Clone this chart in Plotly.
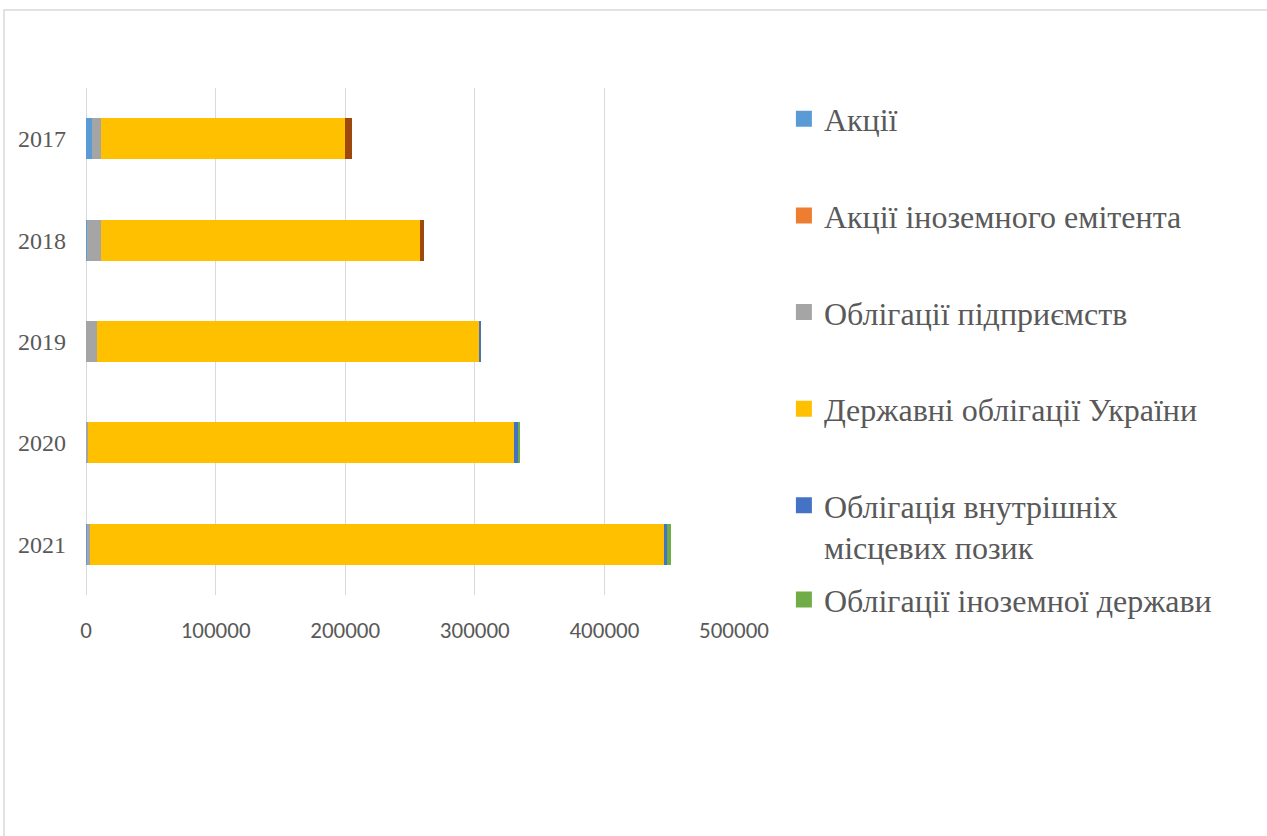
import plotly.graph_objects as go

# Portfolio structure by security type, 2017–2021
years = ["2017", "2018", "2019", "2020", "2021"]

shares = [5000, 700, 0, 0, 500]
foreign_issuer_shares = [0, 0, 0, 0, 0]
corporate_bonds = [6200, 10800, 8300, 1500, 2500]
state_bonds = [189000, 246500, 295300, 328700, 443500]
local_loan_bonds = [0, 0, 700, 3900, 1500]
foreign_state_bonds = [0, 0, 0, 500, 3300]
other = [5400, 2700, 0, 0, 0]

series = [
    ("Акції", shares, "#5B9BD5", True),
    ("Акції іноземного емітента", foreign_issuer_shares, "#ED7D31", True),
    ("Облігації підприємств", corporate_bonds, "#A5A5A5", True),
    ("Державні облігації України", state_bonds, "#FFC000", True),
    ("Облігація внутрішніх<br>місцевих позик", local_loan_bonds, "#4472C4", True),
    ("Облігації іноземної держави", foreign_state_bonds, "#70AD47", True),
    ("Інші", other, "#9E480E", False),
]

TEXT = "#595959"
GRID = "#D9D9D9"
SERIF = "Liberation Serif, Times New Roman, serif"

fig = go.Figure()

for name, vals, color, _ in series:
    fig.add_trace(go.Bar(
        y=years, x=vals, name=name, orientation="h",
        marker=dict(color=color, line=dict(width=0)),
        showlegend=False, hoverinfo="x+name",
    ))

# Legend entries with larger square swatches
for i, (name, vals, color, in_legend) in enumerate(series):
    if not in_legend:
        continue
    fig.add_trace(go.Scatter(
        x=[None], y=[None], mode="markers", name=name,
        marker=dict(symbol="square", size=16, color=color),
        legendgroup=f"g{i}",
        legend="legend2" if i == 5 else "legend",
    ))

fig.update_layout(
    width=1267, height=836,
    margin=dict(l=86, r=533, t=88, b=240.5, autoexpand=False),
    barmode="stack", bargap=0.596,
    paper_bgcolor="white", plot_bgcolor="white",
    xaxis=dict(
        range=[0, 500000], dtick=100000, tickformat="d",
        showgrid=True, gridcolor=GRID, gridwidth=1,
        zeroline=True, zerolinecolor=GRID, zerolinewidth=1,
        showline=False, ticks="",
        tickfont=dict(family="Carlito, Calibri, Lato, sans-serif", size=23, color=TEXT),
        ticklabelstandoff=19, fixedrange=True,
    ),
    yaxis=dict(
        type="category", autorange="reversed",
        showgrid=False, showline=False, ticks="",
        tickfont=dict(family=SERIF, size=24, color=TEXT),
        ticklabelstandoff=19, fixedrange=True,
    ),
    legend=dict(
        x=1.077, xanchor="left", y=0.993, yanchor="top",
        traceorder="grouped", tracegroupgap=52, valign="top",
        itemsizing="trace",
        font=dict(family=SERIF, size=32, color=TEXT),
        bgcolor="rgba(0,0,0,0)",
    ),
    legend2=dict(
        x=1.077, xanchor="left", y=0.045, yanchor="top",
        itemsizing="trace",
        font=dict(family=SERIF, size=32, color=TEXT),
        bgcolor="rgba(0,0,0,0)",
    ),
    shapes=[
        dict(type="rect", xref="paper", yref="paper",
             x0=(4 - 86) / 648, x1=(1300 - 86) / 648,
             y0=(595.5 - 900) / 507.5, y1=(595.5 - 10) / 507.5,
             line=dict(color=GRID, width=1.5), fillcolor="rgba(0,0,0,0)",
             layer="below"),
    ],
)

fig.write_html("out.html")
